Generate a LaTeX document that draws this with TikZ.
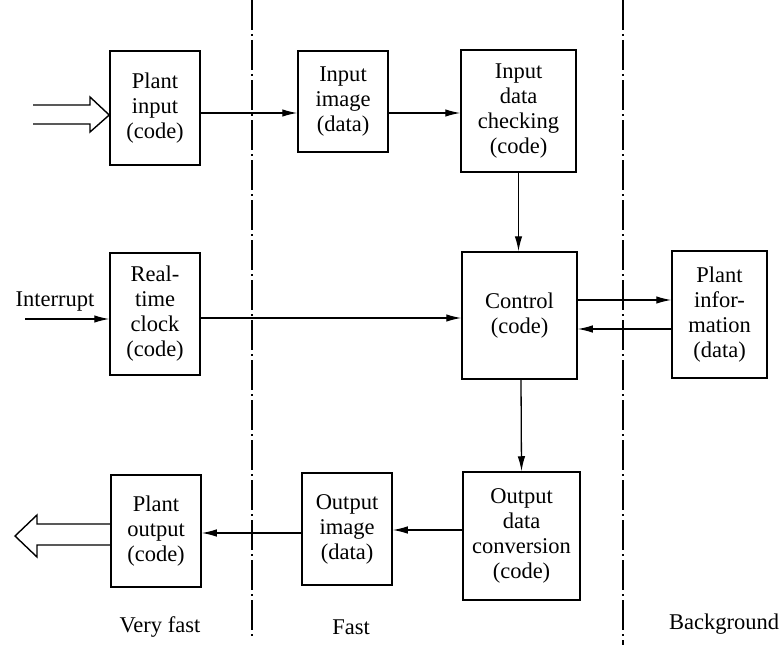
\documentclass[tikz,border=0pt]{standalone}
\usepackage{fontspec}
\setmainfont{Liberation Serif}
\usetikzlibrary{arrows.meta}
\begin{document}
\begin{tikzpicture}[x=1bp, y=-1bp,
  box/.style={draw, line width=1.5bp, inner sep=0pt, align=center,
    font=\fontsize{22.5bp}{25bp}\selectfont},
  lbl/.style={inner sep=0pt, font=\fontsize{22.5bp}{25bp}\selectfont},
  arr/.style={line width=1.3bp, -{Latex[length=15bp,width=7.5bp]}},
  hollow/.style={line width=1.4bp, line join=miter},
  divider/.style={line width=1.3bp, dash pattern=on 30bp off 4bp on 2bp off 4bp}]
\useasboundingbox (0,0) rectangle (781,655);

% task boxes
\node[box, minimum width=90bp, minimum height=114bp] (pin)   at (155,108)   {Plant\\input\\(code)};
\node[box, minimum width=90bp, minimum height=101bp] (img)   at (343,101.5) {Input\\image\\(data)};
\node[box, minimum width=115bp, minimum height=122bp] (chk)  at (518.5,111) {Input\\data\\checking\\(code)};
\node[box, minimum width=90bp, minimum height=122bp] (clock) at (155,314)   {Real-\\time\\clock\\(code)};
\node[box, minimum width=115bp, minimum height=127bp] (ctrl) at (519.5,315.5) {Control\\(code)};
\node[box, minimum width=95bp, minimum height=127bp] (pinfo) at (719.5,314.5) {Plant\\infor-\\mation\\(data)};
\node[box, minimum width=90bp, minimum height=112bp] (pout)  at (156,531)   {Plant\\output\\(code)};
\node[box, minimum width=90bp, minimum height=112bp] (oimg)  at (347,529)   {Output\\image\\(data)};
\node[box, minimum width=117bp, minimum height=128bp] (conv) at (521.5,536) {Output\\data\\conversion\\(code)};

% priority level dividers
\draw[divider] (252,0) -- (252,640);
\draw[divider] (623,0) -- (623,645);

% labels
\node[lbl] (irq)  at (55,302)  {Interrupt};
\node[lbl] (vf)   at (160,627) {Very fast};
\node[lbl] (fast) at (351,627) {Fast};
\node[lbl] (bg)   at (724,624) {Background};

% plant input and output (wide arrows)
\coordinate (inTail) at (33,115);
\coordinate (outTip) at (15,536);
\draw[hollow] (inTail |- 0,105) -- (90,105) -- (90,97) -- (pin.west |- 0,115)
  -- (90,132) -- (90,124) -- (inTail |- 0,124);
\draw[hollow] (pout.west |- 0,524) -- (37,524) -- (37,515) -- (outTip)
  -- (37,557) -- (37,545) -- (pout.west |- 0,545);

% data flow
\coordinate (irqStart) at (25,319);
\draw[arr] (irqStart) -- (clock.west |- irqStart);
\draw[arr] (pin.east |- 0,113) -- (img.west |- 0,113);
\draw[arr] (img.east |- 0,113) -- (chk.west |- 0,113);
\draw[arr] (chk.south) -- (chk.south |- ctrl.north);
\draw[arr] (clock.east |- 0,318) -- (ctrl.west |- 0,318);
\draw[arr] (ctrl.east |- 0,300) -- (pinfo.west |- 0,300);
\draw[arr] (pinfo.west |- 0,329) -- (ctrl.east |- 0,329);
\draw[arr] (ctrl.south -| 521,0) -- (conv.north);
\draw[arr] (conv.west |- 0,530) -- (oimg.east |- 0,530);
\draw[arr] (oimg.west |- 0,533) -- (pout.east |- 0,533);
\end{tikzpicture}
\end{document}
